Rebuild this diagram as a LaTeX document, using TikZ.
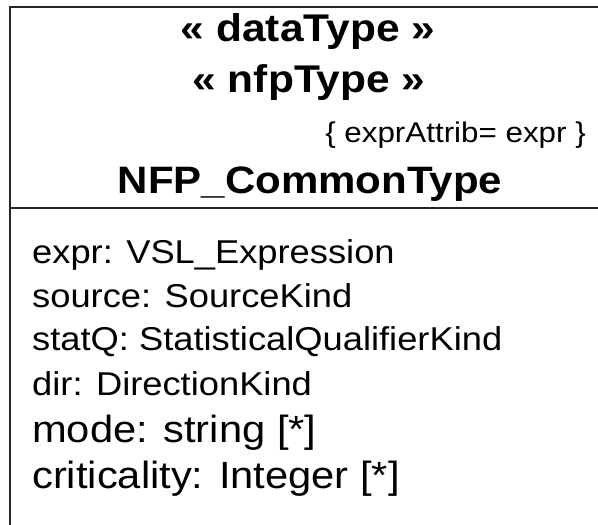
\documentclass[tikz,border=0pt]{standalone}
\usepackage{graphicx}
\usepackage{fontspec}
\setmainfont{Liberation Sans}
% labels are set in a slightly widened face
\newcommand{\hstretch}[1]{\scalebox{1.1}[1]{#1}}
\begin{document}
\begin{tikzpicture}[x=1pt,y=-1pt,
  frame/.style={line width=2pt,draw=black!85},
  stereo/.style={font=\bfseries\fontsize{38.6}{44}\selectfont,inner sep=0pt,anchor=base},
  classname/.style={font=\bfseries\fontsize{38.2}{44}\selectfont,inner sep=0pt,anchor=base},
  tagged/.style={font=\fontsize{28.5}{33}\selectfont,inner sep=0pt,anchor=base east},
  attr/.style={font=\fontsize{33}{38}\selectfont,inner sep=0pt,anchor=base west},
  attrbig/.style={font=\fontsize{37.9}{43}\selectfont,inner sep=0pt,anchor=base west}]
\useasboundingbox (0,0) rectangle (598,525);
% class box: top edge, left edge and compartment divider
\coordinate (tl) at (10,7);
\coordinate (tr) at (598,7);
\coordinate (bl) at (10,525);
\coordinate (dl) at (10,208);
\coordinate (dr) at (598,208);
\draw[frame] (tr) -- (tl) -- (bl);
\draw[frame] (dl) -- (dr);
% name compartment
\node[stereo] (st1) at (308,41) {\hstretch{« dataType »}};
\node[stereo] (st2) at (309,92) {\hstretch{« nfpType »}};
\node[tagged] (tag) at (586,142) {\hstretch{\{ exprAttrib= expr \}}};
\node[classname] (name) at (310,193) {\hstretch{NFP\_CommonType}};
% attribute compartment
\node[attr] (a1) at (32,263) {\hstretch{expr: VSL\_Expression}};
\node[attr] (a2) at (32,307) {\hstretch{source: SourceKind}};
\node[attr] (a3) at (32,350) {\hstretch{statQ: StatisticalQualifierKind}};
\node[attr] (a4) at (32,395) {\hstretch{dir: DirectionKind}};
\node[attrbig] (a5) at (32,442) {\hstretch{mode: string [*]}};
\node[attrbig] (a6) at (32,488) {\hstretch{criticality: Integer [*]}};
\end{tikzpicture}
\end{document}
